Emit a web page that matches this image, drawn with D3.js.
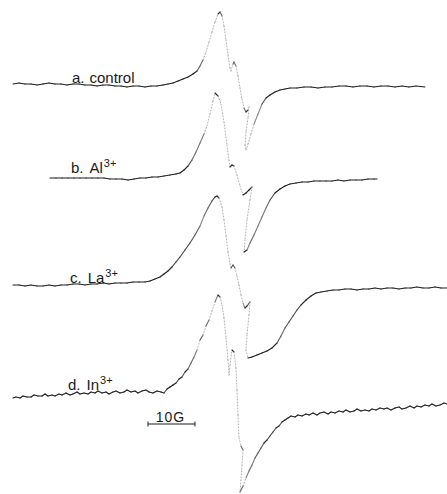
<!DOCTYPE html>
<html>
<head>
<meta charset="utf-8">
<script src="https://cdn.jsdelivr.net/npm/d3@7"></script>
<style>
  body { margin: 0; background: #fff; }
  svg { display: block; }
  text { font-family: "Liberation Sans", Arial, sans-serif; fill: #1a1a1a; }
</style>
</head>
<body>
<div id="chart"></div>
<script>
// EPR traces (x = field position, y = signal, chart units)
var traceA = [[13,84],[19,83],[25,84],[31,84],[37,85],[43,84],[49,83],[55,84],[61,84],[67,85],[73,84],[79,84],[85,85],[91,85],[97,86],[103,85],[109,85],[115,86],[121,86],[127,87],[133,86],[139,86],[145,87],[151,86],[157,86],[163,85],[168,84],[173,83],[178,81],[183,79],[188,77],[193,74],[197,71],[200,66],[203,60],[206,52],[209,42],[212,32],[215,22],[218,14],[220,12],[222,16],[224,26],[226,40],[228,55],[230,68],[231,71],[233,64],[234,62],[236,66],[238,76],[240,88],[242,99],[244,108],[246,112],[248,110],[249,107],[248,118],[246,132],[245,145],[246,150],[248,144],[251,134],[254,124],[258,114],[262,104],[266,98],[270,95],[275,92],[280,90],[285,89],[290,88],[297,88],[304,87],[311,87],[318,88],[325,87],[332,87],[339,86],[346,86],[353,87],[360,86],[367,86],[374,87],[381,86],[388,86],[395,87],[402,86],[409,87],[416,86],[425,87]];

var traceB = [[50,178],[56,178],[62,178],[68,178],[74,178],[80,178],[86,178],[92,178],[98,178],[104,178],[110,179],[116,179],[122,179],[128,180],[134,179],[140,178],[146,178],[152,177],[158,177],[164,176],[170,175],[176,174],[180,173],[184,170],[188,166],[192,160],[196,152],[200,143],[204,134],[207,126],[210,114],[213,101],[215,93],[218,96],[221,104],[224,122],[227,145],[229,160],[230,167],[232,165],[234,166],[237,175],[240,186],[243,195],[246,193],[249,190],[252,187],[250,200],[247,220],[245,240],[244,252],[247,250],[250,243],[254,235],[258,226],[262,217],[266,208],[270,200],[275,193],[280,189],[285,186],[290,184],[296,183],[302,182],[308,182],[314,181],[320,181],[326,181],[332,181],[338,180],[344,181],[350,180],[356,180],[362,180],[368,179],[374,179],[377,179]];

var traceC = [[13,285],[19,285],[25,286],[31,285],[37,286],[43,286],[49,285],[55,286],[61,285],[67,285],[73,284],[79,284],[85,285],[91,284],[97,284],[103,283],[109,284],[115,283],[121,283],[127,283],[133,282],[139,282],[145,282],[150,281],[155,279],[160,277],[164,274],[168,271],[172,267],[176,262],[180,257],[185,250],[190,243],[195,235],[200,226],[204,216],[208,208],[212,201],[215,197],[217,196],[219,198],[222,207],[224,220],[226,236],[228,252],[230,264],[231,268],[233,265],[235,268],[237,276],[239,285],[241,295],[243,303],[245,308],[247,306],[250,302],[249,315],[247,335],[246,350],[248,358],[252,357],[257,355],[262,353],[267,351],[272,348],[277,343],[281,336],[285,328],[289,322],[293,316],[297,310],[301,305],[306,300],[311,296],[316,293],[321,292],[327,291],[333,290],[339,290],[345,289],[351,289],[357,290],[363,289],[369,289],[375,288],[381,289],[387,288],[393,288],[399,289],[405,288],[411,288],[417,287],[423,288],[429,288],[435,287],[441,288],[447,288]];

var traceD = [[13,398],[16,397],[20,398],[23,396],[27,397],[31,397],[34,395],[38,396],[42,396],[45,394],[48,396],[52,395],[55,396],[59,394],[62,395],[66,393],[70,395],[73,394],[77,392],[80,394],[84,393],[88,394],[91,392],[95,393],[98,391],[102,393],[106,392],[109,394],[113,392],[116,391],[120,393],[124,392],[127,390],[131,392],[135,391],[138,393],[142,391],[146,390],[149,392],[153,393],[157,391],[161,392],[164,393],[167,389],[170,387],[173,385],[176,383],[179,379],[182,377],[185,372],[188,369],[191,363],[194,357],[197,350],[200,340],[203,335],[206,326],[209,320],[212,311],[215,302],[218,295],[220,297],[222,305],[224,318],[226,338],[228,360],[229,375],[230,365],[232,350],[234,352],[236,368],[237,390],[238,415],[239,438],[241,446],[243,450],[242,465],[241,480],[240,492],[243,486],[246,478],[249,471],[252,465],[255,458],[258,453],[261,448],[264,443],[267,440],[270,436],[273,432],[276,428],[279,426],[282,422],[285,420],[288,418],[291,416],[295,417],[298,415],[302,416],[306,414],[309,415],[313,413],[317,415],[320,413],[324,412],[328,414],[331,412],[335,413],[339,411],[343,412],[346,410],[350,412],[354,411],[357,409],[361,411],[365,410],[369,411],[372,409],[376,410],[380,408],[384,409],[387,408],[391,410],[395,408],[399,407],[402,409],[406,408],[410,406],[414,408],[417,406],[421,407],[425,405],[429,406],[432,404],[436,406],[440,405],[444,403],[447,404]];

var traceKeys = ["a.", "b.", "c.", "d."];
var sampleNames = ["control", "Al", "La", "In"];
var chargeSup = ["", "3+", "3+", "3+"];
var scaleBarEnds = [148, 195];   // 10 G
var scaleBarLabel = "10G";

var width = 447, height = 494;
var traces = [traceA, traceB, traceC, traceD];

var svg = d3.select("#chart").append("svg")
    .attr("width", width)
    .attr("height", height);

var x = d3.scaleLinear().domain([0, 447]).range([0, width]);
var y = d3.scaleLinear().domain([0, 494]).range([0, height]);

// pen gets faint where it moves fast
var inkColor = d3.scaleLinear().domain([0.8, 3]).range(["#1c1c1c", "#a8a8a8"]).clamp(true);

var line = d3.line()
    .x(function (d) { return x(d[0]); })
    .y(function (d) { return y(d[1]); });

var slopeOf = function (s) {
    return Math.abs(s[1][1] - s[0][1]) / Math.max(Math.abs(s[1][0] - s[0][0]), 0.1);
};

traces.forEach(function (pts, i) {
    var segs = d3.pairs(pts);
    svg.append("g")
        .attr("class", "trace trace-" + i)
        .selectAll("path")
        .data(segs)
        .enter()
        .append("path")
        .attr("d", line)
        .attr("fill", "none")
        .attr("stroke-linecap", "round")
        .attr("stroke", function (s) { return inkColor(slopeOf(s)); })
        .attr("stroke-width", function (s) { return slopeOf(s) > 2.5 ? 0.9 : 1.1; })
        .attr("stroke-dasharray", function (s) { return slopeOf(s) > 2.5 ? "1,2" : null; });
});

// labels
var labelPos = [[72, 83], [71, 173], [70, 283], [68, 390]];
var labels = svg.append("g").attr("class", "labels")
    .selectAll("text")
    .data(traceKeys)
    .enter()
    .append("text")
    .attr("x", function (d, i) { return labelPos[i][0]; })
    .attr("y", function (d, i) { return labelPos[i][1]; })
    .attr("font-size", 15);

labels.append("tspan").text(function (d) { return d; });
labels.append("tspan")
    .attr("dx", function (d, i) { return i === 0 ? 5 : 6; })
    .text(function (d, i) { return sampleNames[i]; });
labels.append("tspan")
    .attr("dx", 1)
    .attr("dy", -6)
    .attr("font-size", 11)
    .text(function (d, i) { return chargeSup[i]; });

// 10 G scale bar
var bar = svg.append("g").attr("class", "scale-bar");
bar.append("line")
    .attr("x1", x(scaleBarEnds[0])).attr("x2", x(scaleBarEnds[1]))
    .attr("y1", y(424)).attr("y2", y(424))
    .attr("stroke", "#1c1c1c").attr("stroke-width", 1.2);
bar.selectAll("line.tick")
    .data(scaleBarEnds)
    .enter()
    .append("line")
    .attr("class", "tick")
    .attr("x1", function (d) { return x(d); }).attr("x2", function (d) { return x(d); })
    .attr("y1", y(421.5)).attr("y2", y(426.5))
    .attr("stroke", "#1c1c1c").attr("stroke-width", 1);
bar.append("text")
    .attr("x", x((scaleBarEnds[0] + scaleBarEnds[1]) / 2) - 1)
    .attr("y", y(422))
    .attr("text-anchor", "middle")
    .attr("font-size", 14)
    .attr("letter-spacing", 1)
    .text(scaleBarLabel);
</script>
</body>
</html>
